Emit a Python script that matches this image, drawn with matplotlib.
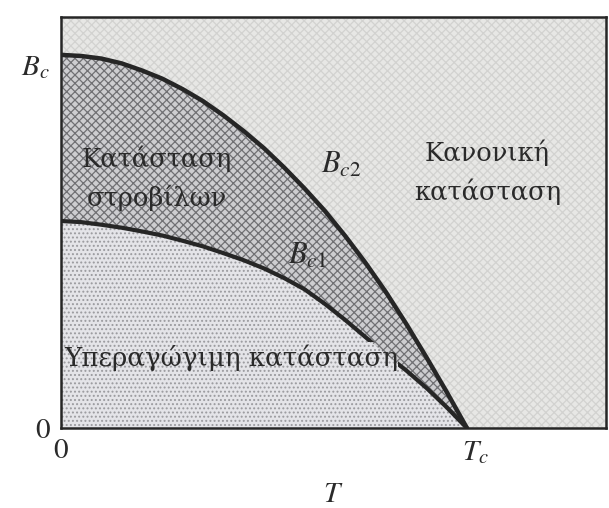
import numpy as np
import matplotlib
matplotlib.use("Agg")
import matplotlib.pyplot as plt
from matplotlib.path import Path
from matplotlib.transforms import ScaledTranslation, IdentityTransform

plt.rcParams["mathtext.fontset"] = "stix"
plt.rcParams["hatch.linewidth"] = 0.9

# Upper critical field B_c2(T), in units of Tc and Bc
t_c2 = [0.0, 0.05, 0.10, 0.15, 0.20, 0.25, 0.30, 0.35, 0.40, 0.45, 0.50,
        0.55, 0.60, 0.65, 0.70, 0.75, 0.80, 0.85, 0.90, 0.95, 1.0]
b_c2 = [1.0, 0.997, 0.99, 0.977, 0.958, 0.936, 0.908, 0.876, 0.838, 0.796, 0.75,
        0.698, 0.642, 0.582, 0.515, 0.443, 0.365, 0.28, 0.19, 0.097, 0.0]

# Lower critical field B_c1(T)
t_c1 = [0.0, 0.05, 0.10, 0.15, 0.20, 0.25, 0.30, 0.35, 0.40, 0.45, 0.50,
        0.55, 0.60, 0.65, 0.70, 0.75, 0.80, 0.85, 0.90, 0.95, 1.0]
b_c1 = [0.555, 0.552, 0.545, 0.537, 0.527, 0.516, 0.502, 0.487, 0.469, 0.45, 0.428,
        0.402, 0.372, 0.333, 0.29, 0.244, 0.198, 0.155, 0.108, 0.056, 0.0]

x_max, y_max = 1.342, 1.102

fig = plt.figure(figsize=(6.09, 5.08), dpi=100)
ax = fig.add_axes([0.100, 0.157, 0.895, 0.810])
ax.set_xlim(0, x_max)
ax.set_ylim(0, y_max)

# normal state (everything above B_c2)
ax.fill_between([0, x_max], 0, y_max, facecolor="#e7e7e5",
                edgecolor="#d2d2d0", hatch="xxxx", linewidth=0, zorder=0)
# mixed (vortex) state between B_c1 and B_c2
ax.fill_between(t_c2, 0, b_c2, facecolor="#cdcdd0",
                edgecolor="#707074", hatch="xxxx", linewidth=0, zorder=1)
# Meissner state below B_c1
ax.fill_between(t_c1, 0, b_c1, facecolor="#e4e4e8",
                edgecolor="#9a9a9e", hatch="....", linewidth=0, zorder=2)

ax.plot(t_c2, b_c2, color="#262626", lw=3.2, zorder=3, solid_capstyle="round")
bc1_line, = ax.plot(t_c1, b_c1, color="#262626", lw=3.0, zorder=3,
                    solid_capstyle="round")

txt = dict(family="DejaVu Serif", color="#2a2a2a", zorder=5)
ax.text(0.236, 0.67, "Κατάσταση\nστροβίλων", ha="center", va="center",
        fontsize=18.5, linespacing=1.6, **txt)
ax.text(1.05, 0.685, "Κανονική\nκατάσταση", ha="center", va="center",
        fontsize=18.5, linespacing=1.6, **txt)
sc_text = ax.text(0.008, 0.19, "Υπεραγώγιμη κατάσταση", ha="left", va="center",
                  fontsize=18.8, **txt)

ax.text(0.64, 0.685, "$B_{c2}$", fontsize=22, color="#2a2a2a", zorder=5)
ax.text(0.56, 0.44, "$B_{c1}$", fontsize=22, color="#2a2a2a", zorder=5)

ax.set_xticks([0, 1], ["0", "$T_c$"])
ax.set_yticks([0, 1], ["0", "$B_c$"])
ax.tick_params(length=0, labelsize=21, labelcolor="#2a2a2a", pad=8)
for lab in ax.get_xticklabels() + ax.get_yticklabels():
    lab.set_family("STIXGeneral")
# nudge the T_c and B_c labels a little
tc_lab = ax.get_xticklabels()[1]
tc_lab.set_transform(tc_lab.get_transform() + ScaledTranslation(0.08, 0, fig.dpi_scale_trans))
bc_lab = ax.get_yticklabels()[1]
bc_lab.set_transform(bc_lab.get_transform() + ScaledTranslation(0, -0.10, fig.dpi_scale_trans))
ax.set_xlabel("$T$", fontsize=21, color="#2a2a2a", labelpad=10)

for s in ax.spines.values():
    s.set_linewidth(1.8)
    s.set_color("#262626")
    s.set_zorder(6)

# break the B_c1 line where the label sits on top of it
fig.canvas.draw()
tb = sc_text.get_window_extent().expanded(1.0, 1.15)
ab = ax.bbox
outer = [(ab.x0, ab.y0), (ab.x1, ab.y0), (ab.x1, ab.y1), (ab.x0, ab.y1), (ab.x0, ab.y0)]
inner = [(tb.x0, tb.y0), (tb.x0, tb.y1), (tb.x1, tb.y1), (tb.x1, tb.y0), (tb.x0, tb.y0)]
codes = [Path.MOVETO] + [Path.LINETO] * 3 + [Path.CLOSEPOLY]
clip = Path(outer + inner, codes + codes)
bc1_line.set_clip_path(clip, IdentityTransform())

fig.savefig("out.png", dpi=100)
